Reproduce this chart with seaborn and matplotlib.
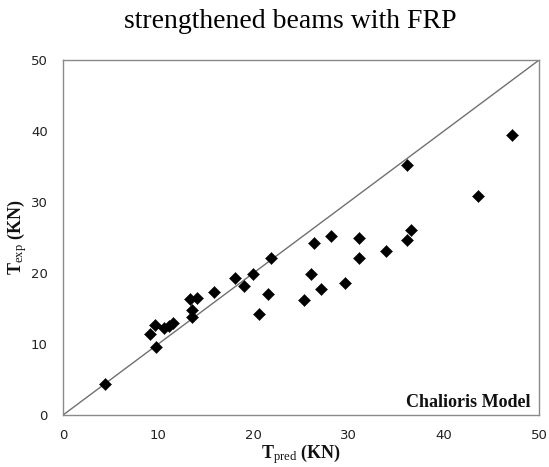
import matplotlib
matplotlib.use("Agg")
import matplotlib.pyplot as plt
import seaborn as sns
import pandas as pd

# Data
t_pred = [4.4, 9.1, 9.7, 9.8, 10.6, 11.1, 11.5, 13.3, 13.5, 13.5, 14.1, 15.9,
          18.1, 19.0, 20.0, 20.6, 21.5, 21.8, 25.3, 26.1, 26.4, 27.1, 28.1,
          29.6, 31.1, 31.1, 33.9, 36.1, 36.1, 36.6, 43.6, 47.2]
t_exp = [4.3, 11.4, 12.7, 9.6, 12.3, 12.6, 12.9, 16.4, 14.8, 13.8, 16.5, 17.3,
         19.3, 18.2, 19.9, 14.2, 17.0, 22.1, 16.2, 19.9, 24.2, 17.7, 25.2,
         18.6, 25.0, 22.1, 23.1, 35.2, 24.7, 26.1, 30.8, 39.4]
diag = [0, 50]
ticks = [0, 10, 20, 30, 40, 50]

df = pd.DataFrame({"pred": t_pred, "exp": t_exp})
dline = pd.DataFrame({"x": diag, "y": diag})

sns.set_theme(style="white")
plt.rcParams["font.family"] = ["DejaVu Sans"]
plt.rcParams["mathtext.fontset"] = "custom"
plt.rcParams["mathtext.rm"] = "Liberation Serif"
plt.rcParams["mathtext.bf"] = "Liberation Serif:bold"
plt.rcParams["mathtext.it"] = "Liberation Serif:italic"

fig = plt.figure(figsize=(5.49, 4.67), dpi=100)
ax = fig.add_axes([0.1148, 0.1113, 0.867, 0.760])

sns.lineplot(data=dline, x="x", y="y", ax=ax, color="#707070", linewidth=1.0)
sns.scatterplot(data=df, x="pred", y="exp", ax=ax, marker="D", s=38,
                color="black", edgecolor="black", linewidth=0.3, zorder=3)

ax.set_xlim(0, 50)
ax.set_ylim(0, 50)
ax.set_xticks(ticks)
ax.set_yticks(ticks)
ax.tick_params(axis="both", length=0, labelsize=9.5, colors="#222222")
ax.tick_params(axis="x", pad=10)
ax.tick_params(axis="y", pad=11)
for sp in ax.spines.values():
    sp.set_visible(True)
    sp.set_color("#8a8a8a")
    sp.set_linewidth(1.0)
ax.grid(False)

ax.set_xlabel(r"$\mathbf{T}_{\mathrm{pred}}\ \mathbf{(KN)}$", fontsize=13,
              color="#111111", labelpad=0)
ax.set_ylabel(r"$\mathbf{T}_{\mathrm{exp}}\ \mathbf{(KN)}$", fontsize=13,
              color="#111111", labelpad=1)

ax.text(0.983, 0.012, "Chalioris Model", transform=ax.transAxes, ha="right",
        va="bottom", fontsize=13, fontweight="bold", family="Liberation Serif",
        color="#111111")

fig.text(0.528, 0.953, "strengthened beams with FRP", ha="center", va="center",
         fontsize=20, family="Liberation Serif", color="black")

fig.savefig("out.png", dpi=100)
